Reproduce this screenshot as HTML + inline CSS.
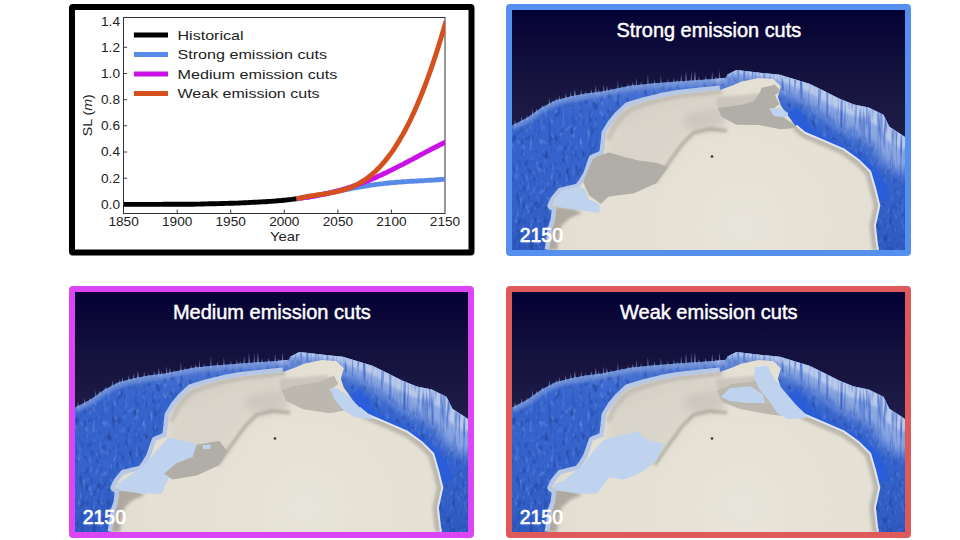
<!DOCTYPE html>
<html><head><meta charset="utf-8"><style>
html,body{margin:0;padding:0;background:#fff;width:960px;height:540px;overflow:hidden}
svg{display:block;font-family:"Liberation Sans",sans-serif}
</style></head><body>
<svg width="960" height="540" viewBox="0 0 960 540">
<defs>
<linearGradient id="sky" x1="0" y1="0" x2="0" y2="1">
<stop offset="0" stop-color="#040134"/><stop offset="0.3" stop-color="#16143f"/><stop offset="0.55" stop-color="#201e4a"/><stop offset="1" stop-color="#28264f"/>
</linearGradient>
<linearGradient id="wallg" gradientUnits="userSpaceOnUse" x1="300" y1="74" x2="284" y2="118">
<stop offset="0" stop-color="#bccdec"/><stop offset="0.35" stop-color="#9ab4e6"/><stop offset="0.75" stop-color="#4f7fdc"/><stop offset="1" stop-color="#3366d6" stop-opacity="0"/>
</linearGradient>
<linearGradient id="bandshade" gradientUnits="userSpaceOnUse" x1="0" y1="70" x2="0" y2="240">
<stop offset="0" stop-color="#86a3e0" stop-opacity="0.45"/><stop offset="0.25" stop-color="#3c6cd3" stop-opacity="0"/><stop offset="1" stop-color="#1d3f9c" stop-opacity="0.25"/>
</linearGradient>
<radialGradient id="iceshade" gradientUnits="userSpaceOnUse" cx="230" cy="215" r="200">
<stop offset="0" stop-color="#ebe8de" stop-opacity="0.6"/><stop offset="0.7" stop-color="#e4e0d4" stop-opacity="0"/><stop offset="1" stop-color="#c8c3b9" stop-opacity="0.2"/>
</radialGradient>
<filter id="speckL" x="0" y="0" width="100%" height="100%" color-interpolation-filters="sRGB">
<feTurbulence type="fractalNoise" baseFrequency="0.28 0.14" numOctaves="2" seed="4" result="n"/>
<feColorMatrix in="n" type="matrix" values="0 0 0 0 0.45  0 0 0 0 0.6  0 0 0 0 0.9  1.8 0 0 0 -1.0" result="c"/>
<feGaussianBlur in="c" stdDeviation="0.6" result="b"/>
<feComposite in="b" in2="SourceGraphic" operator="in"/>
</filter>
<filter id="speckD" x="0" y="0" width="100%" height="100%" color-interpolation-filters="sRGB">
<feTurbulence type="fractalNoise" baseFrequency="0.22 0.12" numOctaves="2" seed="9" result="n"/>
<feColorMatrix in="n" type="matrix" values="0 0 0 0 0.12  0 0 0 0 0.25  0 0 0 0 0.6  -2.2 0 0 0 1.0" result="c"/>
<feGaussianBlur in="c" stdDeviation="0.6" result="b"/>
<feComposite in="b" in2="SourceGraphic" operator="in"/>
</filter>
<filter id="stria" x="0" y="0" width="100%" height="100%" color-interpolation-filters="sRGB">
<feTurbulence type="fractalNoise" baseFrequency="0.35 0.03" numOctaves="2" seed="2" result="n"/>
<feColorMatrix in="n" type="matrix" values="0 0 0 0 0.25  0 0 0 0 0.4  0 0 0 0 0.78  -2.8 0 0 0 1.5" result="c"/>
<feComposite in="c" in2="SourceGraphic" operator="in"/>
</filter>
<filter id="blur2" x="-20%" y="-20%" width="140%" height="140%"><feGaussianBlur stdDeviation="1.5"/></filter>
<filter id="blur4" x="-30%" y="-30%" width="160%" height="160%"><feGaussianBlur stdDeviation="4"/></filter>
<filter id="blur6" x="-30%" y="-30%" width="160%" height="160%"><feGaussianBlur stdDeviation="6"/></filter>
<clipPath id="iceclip"><path d="M37.0,240.0 L38.5,231.0 L40.0,219.3 L43.0,210.4 L44.4,198.5 L40.0,195.6 L43.0,189.6 L48.9,182.2 L66.7,177.8 L71.1,171.9 L75.6,164.4 L80.9,148.8 L91.5,144.5 L93.0,133.0 L94.0,123.0 L99.5,114.0 L107.0,105.0 L116.0,96.5 L132.4,91.5 L149.0,87.5 L165.8,84.5 L188.0,82.0 L208.0,80.0 L221.5,75.0 L228.9,71.8 L246.6,68.1 L261.4,68.9 L268.8,76.3 L265.9,86.7 L268.8,95.5 L276.2,106.0 L283.6,116.3 L292.5,123.7 L310.0,131.0 L330.8,140.0 L346.3,151.1 L357.4,162.2 L361.9,177.8 L366.3,195.6 L361.9,215.6 L364.1,235.6 L365.2,240.0 Z"/></clipPath>
<clipPath id="bandclip"><path d="M0.0,115.5 L14.8,108.0 L29.6,97.4 L44.4,90.0 L59.3,86.3 L74.0,83.6 L88.9,81.8 L103.7,78.8 L118.5,75.8 L140.0,73.4 L169.6,71.2 L199.3,69.3 L214.0,67.8 L215.5,64.4 L224.4,60.0 L253.0,63.3 L267.8,64.8 L282.6,69.3 L297.4,73.7 L312.3,81.1 L327.0,88.5 L341.9,94.4 L356.7,97.4 L371.5,104.8 L377.4,116.7 L386.3,122.6 L393.0,127.0 L393.0,240.0 L0.0,240.0 Z"/></clipPath>
<g id="scene">
<rect x="0" y="0" width="393" height="240" fill="url(#sky)"/>
<path fill="#3563cc" d="M0.0,115.5 L14.8,108.0 L29.6,97.4 L44.4,90.0 L59.3,86.3 L74.0,83.6 L88.9,81.8 L103.7,78.8 L118.5,75.8 L140.0,73.4 L169.6,71.2 L199.3,69.3 L214.0,67.8 L215.5,64.4 L224.4,60.0 L253.0,63.3 L267.8,64.8 L282.6,69.3 L297.4,73.7 L312.3,81.1 L327.0,88.5 L341.9,94.4 L356.7,97.4 L371.5,104.8 L377.4,116.7 L386.3,122.6 L393.0,127.0 L393.0,240.0 L0.0,240.0 Z"/>
<path fill="url(#bandshade)" d="M0.0,115.5 L14.8,108.0 L29.6,97.4 L44.4,90.0 L59.3,86.3 L74.0,83.6 L88.9,81.8 L103.7,78.8 L118.5,75.8 L140.0,73.4 L169.6,71.2 L199.3,69.3 L214.0,67.8 L215.5,64.4 L224.4,60.0 L253.0,63.3 L267.8,64.8 L282.6,69.3 L297.4,73.7 L312.3,81.1 L327.0,88.5 L341.9,94.4 L356.7,97.4 L371.5,104.8 L377.4,116.7 L386.3,122.6 L393.0,127.0 L393.0,240.0 L0.0,240.0 Z"/>
<path fill="#000" filter="url(#speckL)" d="M0.0,115.5 L14.8,108.0 L29.6,97.4 L44.4,90.0 L59.3,86.3 L74.0,83.6 L88.9,81.8 L103.7,78.8 L118.5,75.8 L140.0,73.4 L169.6,71.2 L199.3,69.3 L214.0,67.8 L215.5,64.4 L224.4,60.0 L253.0,63.3 L267.8,64.8 L282.6,69.3 L297.4,73.7 L312.3,81.1 L327.0,88.5 L341.9,94.4 L356.7,97.4 L371.5,104.8 L377.4,116.7 L386.3,122.6 L393.0,127.0 L393.0,240.0 L0.0,240.0 Z"/>
<path fill="#000" filter="url(#speckD)" d="M0.0,115.5 L14.8,108.0 L29.6,97.4 L44.4,90.0 L59.3,86.3 L74.0,83.6 L88.9,81.8 L103.7,78.8 L118.5,75.8 L140.0,73.4 L169.6,71.2 L199.3,69.3 L214.0,67.8 L215.5,64.4 L224.4,60.0 L253.0,63.3 L267.8,64.8 L282.6,69.3 L297.4,73.7 L312.3,81.1 L327.0,88.5 L341.9,94.4 L356.7,97.4 L371.5,104.8 L377.4,116.7 L386.3,122.6 L393.0,127.0 L393.0,240.0 L0.0,240.0 Z"/>
<g clip-path="url(#bandclip)">
<path fill="none" stroke="#7d9ad8" stroke-width="10" stroke-opacity="0.7" filter="url(#blur2)" d="M0.0,115.5 L14.8,108.0 L29.6,97.4 L44.4,90.0 L59.3,86.3 L74.0,83.6 L88.9,81.8 L103.7,78.8 L118.5,75.8 L140.0,73.4 L169.6,71.2 L199.3,69.3 L214.0,67.8"/>
<path fill="#a3bae8" fill-opacity="0.8" filter="url(#blur6)" d="M205.0,60.0 L215.5,58.4 L224.4,54.0 L253.0,57.3 L267.8,58.8 L282.6,63.3 L297.4,67.7 L312.3,75.1 L327.0,82.5 L341.9,88.4 L356.7,91.4 L371.5,98.8 L377.4,110.7 L386.3,116.6 L393.0,121.0 L400.0,120.0 L400.0,165.0 L385.0,161.0 L378.3,156.6 L369.4,150.7 L363.5,137.5 L348.7,126.9 L333.9,120.6 L319.0,111.4 L304.3,100.8 L289.4,90.1 L274.6,82.5 L259.8,74.7 L245.0,71.3 L216.4,68.0 L207.5,72.4 L205.0,78.0 Z"/><path fill="#c3d2ee" fill-opacity="0.8" filter="url(#blur2)" d="M205.0,60.0 L215.5,58.4 L224.4,54.0 L253.0,57.3 L267.8,58.8 L282.6,63.3 L297.4,67.7 L312.3,75.1 L327.0,82.5 L341.9,88.4 L356.7,91.4 L371.5,98.8 L377.4,110.7 L386.3,116.6 L393.0,121.0 L400.0,120.0 L400.0,140.0 L389.0,139.0 L382.3,134.6 L373.4,128.7 L367.5,116.8 L352.7,108.9 L337.9,104.8 L323.0,97.7 L308.3,89.1 L293.4,80.5 L278.6,74.9 L263.8,69.2 L249.0,66.3 L220.4,63.0 L211.5,67.4 L205.0,72.0 Z"/>
<path fill="#000" filter="url(#stria)" d="M205.0,60.0 L215.5,58.4 L224.4,54.0 L253.0,57.3 L267.8,58.8 L282.6,63.3 L297.4,67.7 L312.3,75.1 L327.0,82.5 L341.9,88.4 L356.7,91.4 L371.5,98.8 L377.4,110.7 L386.3,116.6 L393.0,121.0 L400.0,120.0 L400.0,165.0 L385.0,161.0 L378.3,156.6 L369.4,150.7 L363.5,137.5 L348.7,126.9 L333.9,120.6 L319.0,111.4 L304.3,100.8 L289.4,90.1 L274.6,82.5 L259.8,74.7 L245.0,71.3 L216.4,68.0 L207.5,72.4 L205.0,78.0 Z"/>
<path fill="none" stroke="#2a5ddc" stroke-width="12" stroke-opacity="0.9" filter="url(#blur2)" d="M280.0,100.0 L294.0,120.0 L306.0,130.0 L324.0,139.0 L342.0,149.0 L356.0,159.0 L367.0,172.0 L372.0,190.0"/>
</g>
<path fill="#8ea9dc" fill-opacity="0.6" d="M1.9,116.0 L3.0,109.7 L4.1,116.0 Z M8.6,112.6 L9.7,106.3 L10.8,112.6 Z M14.0,109.8 L15.0,104.9 L16.1,109.8 Z M19.8,105.9 L20.6,97.9 L21.3,105.9 Z M23.5,102.9 L24.8,98.4 L26.0,102.9 Z M29.2,98.9 L30.6,94.7 L31.9,98.9 Z M36.3,95.5 L37.4,88.2 L38.5,95.5 Z M40.0,93.7 L41.0,89.6 L42.1,93.7 Z M43.4,92.1 L44.3,87.1 L45.1,92.1 Z M46.4,91.3 L47.4,84.9 L48.4,91.3 Z M52.6,89.7 L53.8,83.1 L54.9,89.7 Z M57.7,88.4 L58.8,81.1 L59.8,88.4 Z M61.5,87.6 L62.9,78.7 L64.3,87.6 Z M68.3,86.5 L69.2,78.9 L70.2,86.5 Z M72.4,85.8 L73.2,80.3 L73.9,85.8 Z M77.9,85.0 L79.2,79.0 L80.5,85.0 Z M82.5,84.4 L83.8,75.6 L85.1,84.4 Z M85.4,84.1 L86.8,79.0 L88.1,84.1 Z M90.7,83.2 L91.7,74.3 L92.6,83.2 Z M93.7,82.6 L94.9,75.4 L96.2,82.6 Z M98.1,81.7 L99.0,77.0 L100.0,81.7 Z M105.1,80.4 L105.9,69.5 L106.7,80.4 Z M109.1,79.5 L109.9,74.6 L110.6,79.5 Z M115.0,78.3 L116.1,72.7 L117.1,78.3 Z M119.6,77.5 L120.8,71.8 L122.1,77.5 Z M123.6,77.1 L124.4,67.4 L125.2,77.1 Z M128.2,76.6 L129.1,70.7 L129.9,76.6 Z M135.0,75.9 L135.9,64.6 L136.8,75.9 Z M141.5,75.2 L142.5,69.3 L143.5,75.2 Z M148.1,74.7 L148.9,65.0 L149.7,74.7 Z M155.0,74.2 L155.9,68.3 L156.7,74.2 Z M161.0,73.8 L161.9,66.8 L162.8,73.8 Z M164.1,73.5 L165.2,68.7 L166.3,73.5 Z M168.2,73.2 L169.2,63.8 L170.2,73.2 Z M173.0,72.9 L174.0,60.3 L175.1,72.9 Z M178.5,72.6 L179.3,60.8 L180.1,72.6 Z M181.7,72.3 L182.9,60.2 L184.2,72.3 Z M185.7,72.1 L186.9,66.4 L188.2,72.1 Z M192.3,71.7 L193.7,65.9 L195.1,71.7 Z M199.2,71.2 L200.2,61.8 L201.2,71.2 Z M202.3,70.9 L203.6,66.5 L205.0,70.9 Z M206.7,70.5 L207.6,60.1 L208.5,70.5 Z"/>
<path fill="none" stroke="#b7c8e6" stroke-width="9" stroke-linejoin="round" d="M37.0,240.0 L38.5,231.0 L40.0,219.3 L43.0,210.4 L44.4,198.5 L40.0,195.6 L43.0,189.6 L48.9,182.2 L66.7,177.8 L71.1,171.9 L75.6,164.4 L80.9,148.8 L91.5,144.5 L93.0,133.0 L94.0,123.0 L99.5,114.0 L107.0,105.0 L116.0,96.5 L132.4,91.5 L149.0,87.5 L165.8,84.5 L188.0,82.0 L208.0,80.0"/>
<path fill="none" stroke="#dfe6f2" stroke-width="4" stroke-linejoin="round" d="M283.6,116.3 L292.5,123.7 L310.0,131.0 L330.8,140.0 L346.3,151.1 L357.4,162.2 L361.9,177.8 L366.3,195.6 L361.9,215.6 L364.1,235.6 L365.2,240.0"/>
<path fill="#e4e0d4" d="M37.0,240.0 L38.5,231.0 L40.0,219.3 L43.0,210.4 L44.4,198.5 L40.0,195.6 L43.0,189.6 L48.9,182.2 L66.7,177.8 L71.1,171.9 L75.6,164.4 L80.9,148.8 L91.5,144.5 L93.0,133.0 L94.0,123.0 L99.5,114.0 L107.0,105.0 L116.0,96.5 L132.4,91.5 L149.0,87.5 L165.8,84.5 L188.0,82.0 L208.0,80.0 L221.5,75.0 L228.9,71.8 L246.6,68.1 L261.4,68.9 L268.8,76.3 L265.9,86.7 L268.8,95.5 L276.2,106.0 L283.6,116.3 L292.5,123.7 L310.0,131.0 L330.8,140.0 L346.3,151.1 L357.4,162.2 L361.9,177.8 L366.3,195.6 L361.9,215.6 L364.1,235.6 L365.2,240.0 Z"/>
<path fill="url(#iceshade)" d="M37.0,240.0 L38.5,231.0 L40.0,219.3 L43.0,210.4 L44.4,198.5 L40.0,195.6 L43.0,189.6 L48.9,182.2 L66.7,177.8 L71.1,171.9 L75.6,164.4 L80.9,148.8 L91.5,144.5 L93.0,133.0 L94.0,123.0 L99.5,114.0 L107.0,105.0 L116.0,96.5 L132.4,91.5 L149.0,87.5 L165.8,84.5 L188.0,82.0 L208.0,80.0 L221.5,75.0 L228.9,71.8 L246.6,68.1 L261.4,68.9 L268.8,76.3 L265.9,86.7 L268.8,95.5 L276.2,106.0 L283.6,116.3 L292.5,123.7 L310.0,131.0 L330.8,140.0 L346.3,151.1 L357.4,162.2 L361.9,177.8 L366.3,195.6 L361.9,215.6 L364.1,235.6 L365.2,240.0 Z"/>
<g clip-path="url(#iceclip)">
<path fill="#c9c4ba" fill-opacity="0.6" filter="url(#blur6)" d="M100.0,108.0 L117.0,97.0 L140.0,91.0 L170.0,85.0 L200.0,82.0 L215.0,85.0 L205.0,95.0 L180.0,98.0 L150.0,104.0 L120.0,112.0 L105.0,122.0 Z"/>
<path fill="none" stroke="#bdb9b0" stroke-width="6" stroke-opacity="0.8" filter="url(#blur2)" d="M96,130 L102,117 L110,106 L119,99 L134,93.5 L150,89 L167,85.5 L190,83 L210,81"/>
<path fill="#d2cdc3" fill-opacity="0.6" filter="url(#blur6)" d="M92.0,140.0 L100.0,122.0 L120.0,108.0 L150.0,103.0 L180.0,100.0 L200.0,108.0 L185.0,120.0 L170.0,133.0 L155.0,152.0 L140.0,172.0 L110.0,168.0 L95.0,155.0 Z"/>
<path fill="#c8c4bb" fill-opacity="0.8" filter="url(#blur4)" d="M172,104 L200,96 L215,100 L212,118 L190,122 L172,116 Z"/>
<path fill="#c6c2b9" fill-opacity="0.85" filter="url(#blur2)" d="M204,87 L230,85 L250,83 L258,86 L252,96 L230,98 L206,101 Z"/>
<g filter="url(#blur2)">
<path fill="none" stroke="#8a857c" stroke-width="3" stroke-opacity="0.6" stroke-linejoin="round" d="M142.8,172.6 L155.8,154.0 L170.6,133.7 L181.7,122.6 L198.4,118.9 L215.0,120.7"/>
<path fill="none" stroke="#9a958c" stroke-width="9" stroke-opacity="0.55" d="M283.6,116.3 L292.5,123.7 L310.0,131.0 L330.8,140.0 L346.3,151.1 L357.4,162.2 L361.9,177.8 L366.3,195.6 L361.9,215.6 L364.1,235.6 L365.2,240.0"/>
<path fill="#9d9890" fill-opacity="0.75" d="M36,196 L62,199 L70,203 L58,208 L50,215 L47,225 L45,240 L34,240 L38,219 Z"/>
</g>
</g>
</g>
<clipPath id="plotclip"><rect x="123.6" y="17.6" width="321.4" height="195.4"/></clipPath>
</defs>
<rect x="0" y="0" width="960" height="540" fill="#fff"/>
<rect x="72" y="7" width="399.5" height="245.6" rx="1" fill="#fff" stroke="#000" stroke-width="6"/>
<rect x="123.5" y="17.5" width="321.5" height="196" fill="none" stroke="#333" stroke-width="1"/>
<g clip-path="url(#plotclip)" fill="none" stroke-width="4.9" stroke-linejoin="round">
<path stroke="#000" d="M123.6,204.4 L125.6,204.4 L127.6,204.4 L129.6,204.4 L131.6,204.4 L133.6,204.4 L135.6,204.4 L137.6,204.4 L139.6,204.4 L141.6,204.4 L143.6,204.4 L145.6,204.4 L147.6,204.4 L149.6,204.4 L151.6,204.4 L153.6,204.4 L155.6,204.4 L157.6,204.4 L159.6,204.4 L161.6,204.4 L163.6,204.3 L165.6,204.3 L167.6,204.3 L169.6,204.3 L171.6,204.3 L173.6,204.3 L175.6,204.3 L177.6,204.3 L179.6,204.3 L181.6,204.3 L183.6,204.3 L185.6,204.3 L187.6,204.2 L189.6,204.2 L191.6,204.2 L193.6,204.2 L195.6,204.1 L197.6,204.1 L199.6,204.1 L201.6,204.0 L203.6,204.0 L205.6,203.9 L207.6,203.9 L209.6,203.8 L211.6,203.8 L213.6,203.7 L215.6,203.7 L217.6,203.6 L219.6,203.6 L221.6,203.5 L223.6,203.5 L225.6,203.4 L227.6,203.4 L229.6,203.3 L231.6,203.3 L233.6,203.2 L235.6,203.1 L237.6,203.1 L239.6,203.0 L241.6,202.9 L243.6,202.8 L245.6,202.7 L247.6,202.6 L249.6,202.5 L251.6,202.4 L253.6,202.3 L255.6,202.2 L257.6,202.1 L259.6,202.0 L261.6,201.9 L263.6,201.8 L265.6,201.7 L267.6,201.5 L269.6,201.4 L271.6,201.3 L273.6,201.1 L275.6,201.0 L277.6,200.8 L279.6,200.6 L281.6,200.5 L283.6,200.3 L285.6,200.1 L287.6,199.8 L289.6,199.6 L291.6,199.4 L293.6,199.1 L295.6,198.8 L296.7,198.7"/>
<path stroke="#5a8ae8" d="M296.7,198.7 L298.7,198.5 L300.7,198.2 L302.7,197.9 L304.7,197.6 L306.7,197.3 L308.7,197.0 L310.7,196.6 L312.7,196.3 L314.7,195.9 L316.7,195.5 L318.7,195.1 L320.7,194.7 L322.7,194.3 L324.7,193.9 L326.7,193.5 L328.7,193.1 L330.7,192.7 L332.7,192.3 L334.7,191.8 L336.7,191.4 L338.7,191.0 L340.7,190.6 L342.7,190.2 L344.7,189.8 L346.7,189.4 L348.7,189.0 L350.7,188.6 L352.7,188.2 L354.7,187.9 L356.7,187.5 L358.7,187.2 L360.7,186.8 L362.7,186.5 L364.7,186.2 L366.7,185.8 L368.7,185.5 L370.7,185.2 L372.7,184.9 L374.7,184.7 L376.7,184.4 L378.7,184.1 L380.7,183.9 L382.7,183.7 L384.7,183.4 L386.7,183.2 L388.7,183.0 L390.7,182.8 L392.7,182.6 L394.7,182.5 L396.7,182.3 L398.7,182.1 L400.7,182.0 L402.7,181.8 L404.7,181.7 L406.7,181.6 L408.7,181.4 L410.7,181.3 L412.7,181.2 L414.7,181.1 L416.7,181.0 L418.7,180.9 L420.7,180.8 L422.7,180.7 L424.7,180.6 L426.7,180.4 L428.7,180.3 L430.7,180.2 L432.7,180.1 L434.7,180.0 L436.7,179.8 L438.7,179.7 L440.7,179.5 L442.7,179.4 L444.7,179.2 L446.0,179.1"/>
<path stroke="#cc11e8" d="M296.7,198.6 L298.7,198.4 L300.7,198.1 L302.7,197.8 L304.7,197.6 L306.7,197.3 L308.7,197.0 L310.7,196.6 L312.7,196.3 L314.7,196.0 L316.7,195.6 L318.7,195.2 L320.7,194.9 L322.7,194.5 L324.7,194.0 L326.7,193.6 L328.7,193.2 L330.7,192.7 L332.7,192.2 L334.7,191.7 L336.7,191.2 L338.7,190.7 L340.7,190.1 L342.7,189.5 L344.7,188.9 L346.7,188.3 L348.7,187.7 L350.7,187.0 L352.7,186.4 L354.7,185.7 L356.7,185.0 L358.7,184.3 L360.7,183.5 L362.7,182.8 L364.7,182.0 L366.7,181.2 L368.7,180.4 L370.7,179.6 L372.7,178.7 L374.7,177.9 L376.7,177.0 L378.7,176.1 L380.7,175.2 L382.7,174.3 L384.7,173.3 L386.7,172.4 L388.7,171.4 L390.7,170.4 L392.7,169.4 L394.7,168.4 L396.7,167.4 L398.7,166.4 L400.7,165.4 L402.7,164.4 L404.7,163.3 L406.7,162.3 L408.7,161.2 L410.7,160.1 L412.7,159.1 L414.7,158.0 L416.7,157.0 L418.7,155.9 L420.7,154.8 L422.7,153.8 L424.7,152.7 L426.7,151.6 L428.7,150.6 L430.7,149.5 L432.7,148.5 L434.7,147.5 L436.7,146.5 L438.7,145.5 L440.7,144.5 L442.7,143.5 L444.7,142.5 L446.0,141.9"/>
<path stroke="#d4501c" d="M296.7,198.9 L298.7,198.3 L300.7,197.8 L302.7,197.4 L304.7,197.0 L306.7,196.6 L308.7,196.2 L310.7,195.9 L312.7,195.6 L314.7,195.3 L316.7,195.0 L318.7,194.7 L320.7,194.4 L322.7,194.2 L324.7,193.9 L326.7,193.6 L328.7,193.2 L330.7,192.9 L332.7,192.5 L334.7,192.1 L336.7,191.7 L338.7,191.2 L340.7,190.7 L342.7,190.2 L344.7,189.5 L346.7,188.9 L348.7,188.2 L350.7,187.4 L352.7,186.5 L354.7,185.6 L356.7,184.6 L358.7,183.6 L360.7,182.4 L362.7,181.2 L364.7,179.9 L366.7,178.5 L368.7,177.0 L370.7,175.4 L372.7,173.7 L374.7,172.0 L376.7,170.1 L378.7,168.1 L380.7,166.0 L382.7,163.7 L384.7,161.4 L386.7,158.9 L388.7,156.3 L390.7,153.6 L392.7,150.8 L394.7,147.8 L396.7,144.7 L398.7,141.5 L400.7,138.1 L402.7,134.6 L404.7,131.0 L406.7,127.2 L408.7,123.3 L410.7,119.2 L412.7,114.9 L414.7,110.6 L416.7,106.0 L418.7,101.3 L420.7,96.5 L422.7,91.5 L424.7,86.3 L426.7,81.0 L428.7,75.5 L430.7,69.9 L432.7,64.1 L434.7,58.1 L436.7,51.9 L438.7,45.6 L440.7,39.1 L442.7,32.5 L444.7,25.7 L446.0,21.1"/>
</g>
<path stroke="#3a3a3a" stroke-width="1" fill="none" d="M177.2,213 v-3.5 M230.7,213 v-3.5 M284.3,213 v-3.5 M337.9,213 v-3.5 M391.4,213 v-3.5 M123.6,178.2 h3.5 M123.6,152.0 h3.5 M123.6,125.8 h3.5 M123.6,99.7 h3.5 M123.6,73.5 h3.5 M123.6,47.3 h3.5"/>
<g fill="#222" font-size="12.6">
<text x="123.6" y="225.7" text-anchor="middle" textLength="30.3" lengthAdjust="spacingAndGlyphs">1850</text>
<text x="177.2" y="225.7" text-anchor="middle" textLength="30.3" lengthAdjust="spacingAndGlyphs">1900</text>
<text x="230.7" y="225.7" text-anchor="middle" textLength="30.3" lengthAdjust="spacingAndGlyphs">1950</text>
<text x="284.3" y="225.7" text-anchor="middle" textLength="30.3" lengthAdjust="spacingAndGlyphs">2000</text>
<text x="337.9" y="225.7" text-anchor="middle" textLength="30.3" lengthAdjust="spacingAndGlyphs">2050</text>
<text x="391.4" y="225.7" text-anchor="middle" textLength="30.3" lengthAdjust="spacingAndGlyphs">2100</text>
<text x="445.0" y="225.7" text-anchor="middle" textLength="30.3" lengthAdjust="spacingAndGlyphs">2150</text>
<text x="120" y="208.8" text-anchor="end" textLength="19" lengthAdjust="spacingAndGlyphs">0.0</text>
<text x="120" y="182.6" text-anchor="end" textLength="19" lengthAdjust="spacingAndGlyphs">0.2</text>
<text x="120" y="156.4" text-anchor="end" textLength="19" lengthAdjust="spacingAndGlyphs">0.4</text>
<text x="120" y="130.2" text-anchor="end" textLength="19" lengthAdjust="spacingAndGlyphs">0.6</text>
<text x="120" y="104.1" text-anchor="end" textLength="19" lengthAdjust="spacingAndGlyphs">0.8</text>
<text x="120" y="77.9" text-anchor="end" textLength="19" lengthAdjust="spacingAndGlyphs">1.0</text>
<text x="120" y="51.7" text-anchor="end" textLength="19" lengthAdjust="spacingAndGlyphs">1.2</text>
<text x="120" y="25.5" text-anchor="end" textLength="19" lengthAdjust="spacingAndGlyphs">1.4</text>
</g>
<g stroke-width="4.9">
<line x1="133.9" y1="35.0" x2="168" y2="35.0" stroke="#000"/>
<line x1="133.9" y1="54.5" x2="168" y2="54.5" stroke="#5a8ae8"/>
<line x1="133.9" y1="74.0" x2="168" y2="74.0" stroke="#cc11e8"/>
<line x1="133.9" y1="93.5" x2="168" y2="93.5" stroke="#d4501c"/>
</g>
<g fill="#222" font-size="13.6">
<text x="177.5" y="39.7" textLength="66.0" lengthAdjust="spacingAndGlyphs">Historical</text>
<text x="177.5" y="59.4" textLength="149.6" lengthAdjust="spacingAndGlyphs">Strong emission cuts</text>
<text x="177.5" y="78.7" textLength="159.8" lengthAdjust="spacingAndGlyphs">Medium emission cuts</text>
<text x="177.5" y="97.8" textLength="142.1" lengthAdjust="spacingAndGlyphs">Weak emission cuts</text>
<text x="285" y="241.3" text-anchor="middle" font-size="13.2" textLength="30" lengthAdjust="spacingAndGlyphs">Year</text>
<text transform="translate(92.3,115.2) rotate(-90)" text-anchor="middle" font-size="12.8" textLength="42" lengthAdjust="spacingAndGlyphs">SL (<tspan font-style="italic">m</tspan>)</text>
</g>
<g transform="translate(512,10)"><use href="#scene"/><path fill="#b1aea7" d="M89.1,144.7 L80.9,148.8 L71.1,171.9 L77.0,185.2 L88.9,194.0 L96.3,186.7 L106.7,185.2 L121.7,183.4 L144.1,173.2 L156.4,156.9 L144.1,152.8 L127.8,150.8 L111.5,146.7 L97.3,142.6 Z"/><path fill="#bfd2ee" d="M49.0,180.7 L66.7,176.3 L72.6,179.3 L77.0,189.6 L87.4,194.0 L87.4,203.0 L66.7,200.0 L47.4,197.0 L41.5,194.0 Z"/><path fill="#b1aea7" d="M249.6,77.8 L262.9,74.8 L268.8,80.7 L262.9,85.2 L267.4,94.1 L260.0,100.0 L271.8,107.4 L280.7,113.3 L285.0,118.0 L268.8,119.2 L246.6,115.0 L224.4,114.8 L209.6,107.0 L206.0,98.0 L224.4,95.5 L233.0,94.0 L242.2,91.1 L248.1,82.2 Z"/><path fill="#bfd2ee" d="M257.0,98.5 L268.0,98.0 L276.2,103.0 L275.0,107.4 L262.0,106.0 Z"/><circle cx="200" cy="146.5" r="1.3" fill="#333"/></g>
<g transform="translate(75,292)"><use href="#scene"/><path fill="#bfd2ee" d="M93.2,145.7 L109.5,148.8 L119.7,150.8 L121.7,159.0 L115.6,167.1 L97.0,180.0 L91.1,191.6 L87.0,201.7 L66.7,201.5 L44.4,198.5 L42.0,192.0 L52.4,185.4 L70.8,171.2 L83.0,156.9 Z"/><path fill="#b1aea7" d="M121.7,152.8 L144.1,148.8 L152.3,159.0 L144.1,173.2 L121.7,183.4 L97.3,187.5 L89.1,181.4 L101.3,171.2 L117.6,165.1 Z"/><path fill="#bfd2ee" d="M127.8,153.0 L136.0,152.8 L135.0,157.0 L128.0,157.0 Z"/><path fill="#bcb8b0" d="M207.0,98.4 L217.5,94.3 L244.6,90.0 L259.0,83.8 L263.3,92.0 L255.0,98.4 L267.5,106.8 L275.8,117.2 L255.0,121.3 L228.0,117.2 L211.0,108.8 Z"/><path fill="#bfd2ee" d="M255.0,96.3 L262.0,96.5 L271.7,102.6 L284.2,115.0 L300.8,127.6 L280.0,125.5 L267.5,117.2 L259.0,106.8 Z"/><circle cx="200" cy="146.5" r="1.3" fill="#333"/></g>
<g transform="translate(512,292)"><use href="#scene"/><path fill="#bfd2ee" d="M91.1,148.8 L101.3,144.7 L115.6,142.6 L125.8,138.6 L129.9,144.7 L138.0,148.8 L152.3,151.8 L144.1,169.1 L127.8,181.4 L111.5,187.5 L97.3,185.4 L91.1,193.6 L85.0,201.7 L66.7,201.5 L44.4,198.5 L42.0,192.0 L50.4,189.5 L70.8,173.2 L83.0,156.9 Z"/><path fill="#bcb8b0" d="M205.0,99.0 L220.0,92.0 L244.0,89.0 L254.0,99.0 L262.0,112.0 L270.0,124.0 L255.0,122.0 L228.0,117.0 L210.0,110.0 Z"/><path fill="#bfd2ee" d="M209.0,104.7 L217.5,96.3 L238.3,94.3 L250.8,102.6 L253.0,111.0 L234.0,111.0 L217.5,108.8 Z"/><path fill="#bfd2ee" d="M242.5,75.5 L255.0,73.4 L263.3,88.0 L271.7,98.4 L284.2,113.0 L296.7,125.5 L275.8,127.6 L265.4,121.3 L257.0,108.8 L246.7,96.3 L242.5,86.0 Z"/><circle cx="200" cy="146.5" r="1.3" fill="#333"/></g>
<rect x="509" y="7" width="399" height="246" rx="1" fill="none" stroke="#5590ee" stroke-width="6"/>
<rect x="72" y="289" width="399" height="246" rx="1" fill="none" stroke="#dc45f4" stroke-width="6"/>
<rect x="509" y="289" width="399" height="246" rx="1" fill="none" stroke="#de5a5a" stroke-width="6"/>
<g fill="#fff" stroke="#fff" stroke-width="0.45" font-size="20" text-anchor="middle">
<text x="708.8" y="37" textLength="184.7" lengthAdjust="spacingAndGlyphs">Strong emission cuts</text>
<text x="271.8" y="319">Medium emission cuts</text>
<text x="708.8" y="319">Weak emission cuts</text>
</g>
<g fill="#fff" stroke="#fff" stroke-width="0.7" font-size="21">
<text x="519.7" y="242.1" textLength="43.3" lengthAdjust="spacingAndGlyphs">2150</text>
<text x="82.7" y="524.1" textLength="43.3" lengthAdjust="spacingAndGlyphs">2150</text>
<text x="519.7" y="524.1" textLength="43.3" lengthAdjust="spacingAndGlyphs">2150</text>
</g>
</svg>
</body></html>
